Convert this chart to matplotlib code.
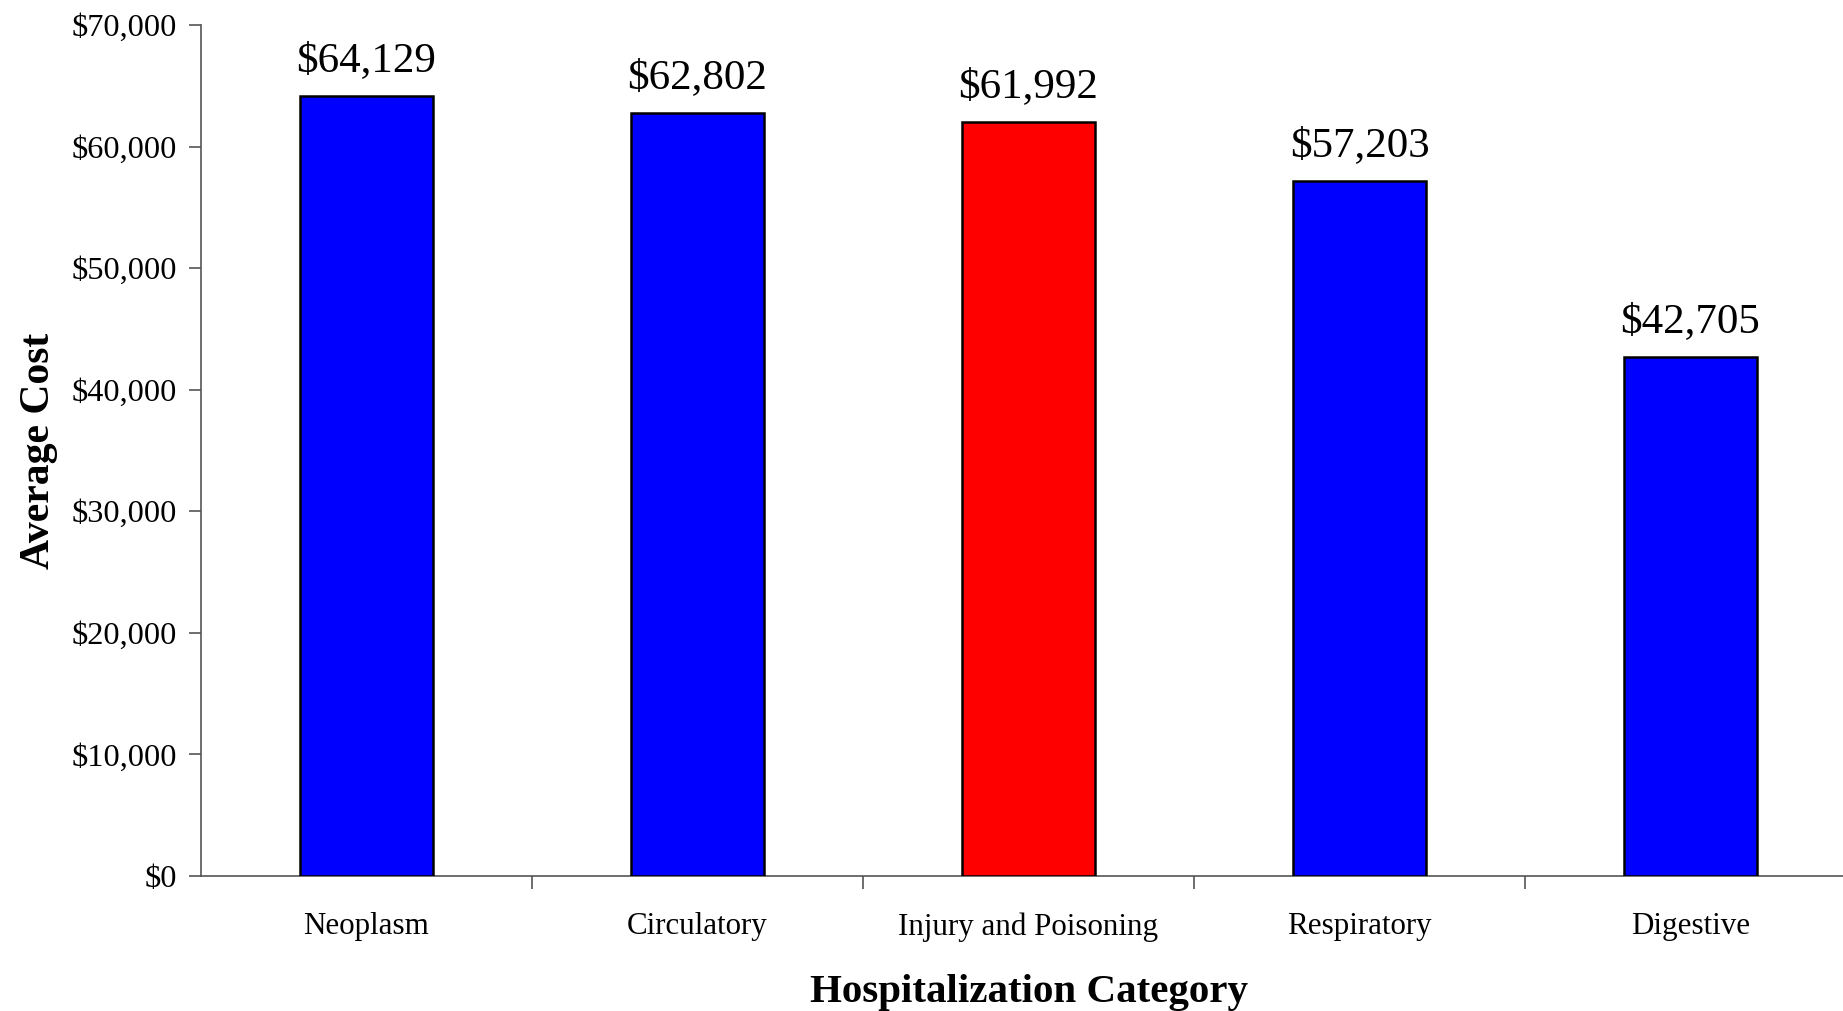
import matplotlib
matplotlib.use("Agg")
import matplotlib.pyplot as plt
from matplotlib.ticker import FuncFormatter

categories = ["Neoplasm", "Circulatory", "Injury and Poisoning", "Respiratory", "Digestive"]
costs = [64129, 62802, 61992, 57203, 42705]
bar_colors = ["#0000ff", "#0000ff", "#ff0000", "#0000ff", "#0000ff"]

plt.rcParams["font.family"] = ["Liberation Serif", "DejaVu Serif"]

fig = plt.figure(figsize=(18.43, 10.11), dpi=100)
# axes runs a little past the right edge of the figure, as in the original
ax = fig.add_axes([201 / 1843, 1 - 876 / 1011, (1856 - 201) / 1843, (876 - 25) / 1011])

x = list(range(len(categories)))
ax.bar(x, costs, width=0.4, color=bar_colors, edgecolor="black", linewidth=1.8, zorder=3)

for xi, v in zip(x, costs):
    ax.text(xi, v + 1300, "${:,}".format(v), ha="center", va="bottom", fontsize=31)

ax.set_xlim(-0.5, 4.5)
ax.set_ylim(0, 70000)
ax.set_yticks(range(0, 70001, 10000))
ax.yaxis.set_major_formatter(FuncFormatter(lambda v, p: "${:,.0f}".format(v)))

# ticks sit between categories, labels in the middle
ax.set_xticks([i + 0.5 for i in range(4)])
ax.set_xticklabels([])
ax.set_xticks(x, minor=True)
ax.set_xticklabels(categories, minor=True, fontsize=22.3)
ax.tick_params(axis="x", which="minor", length=0, pad=26)
ax.tick_params(axis="x", which="major", length=9, width=1.2, color="#555555")
ax.tick_params(axis="y", length=9, width=1.2, color="#555555", labelsize=23.3, pad=8)

for s in ["top", "right"]:
    ax.spines[s].set_visible(False)
for s in ["left", "bottom"]:
    ax.spines[s].set_color("#555555")
    ax.spines[s].set_linewidth(1.2)

ax.set_xlabel("Hospitalization Category", fontsize=29.5, fontweight="bold", labelpad=23)
ax.set_ylabel("Average Cost", fontsize=30, fontweight="bold", labelpad=10)

fig.savefig("out.png", dpi=100)
